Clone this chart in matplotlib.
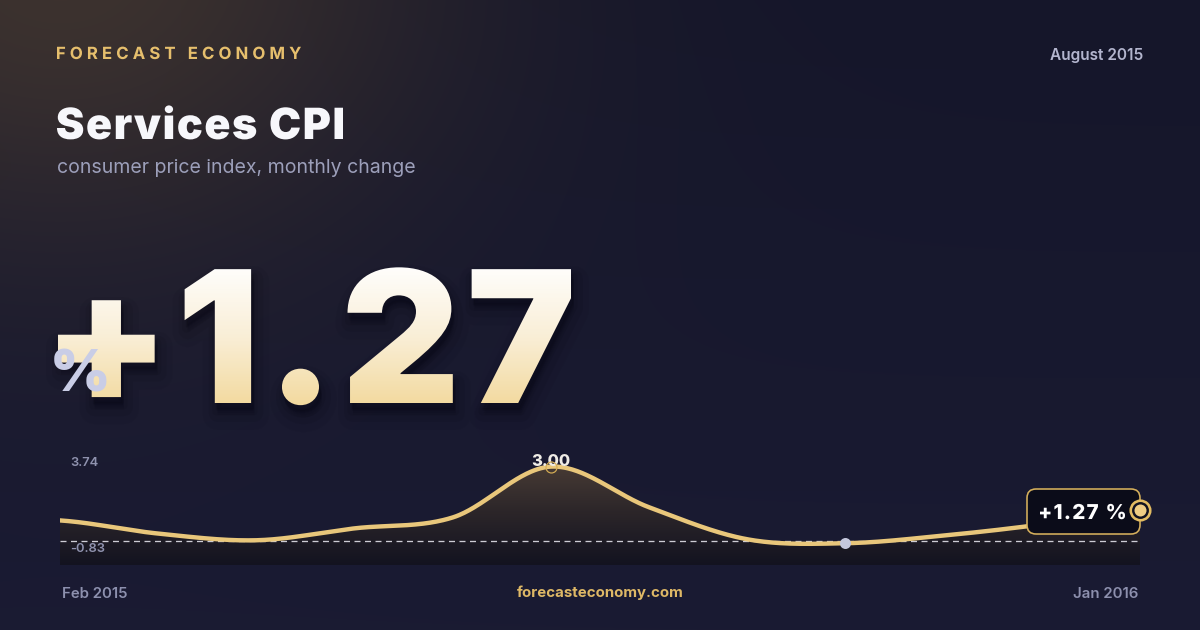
import numpy as np
import matplotlib
matplotlib.use("Agg")
import matplotlib.pyplot as plt
from matplotlib import font_manager as fm
from matplotlib import patheffects as pe
from matplotlib.font_manager import get_font
from matplotlib.textpath import TextPath
from matplotlib.patches import FancyBboxPatch
from matplotlib.transforms import Affine2D, Bbox, ScaledTranslation
from matplotlib.path import Path
from matplotlib.colors import LinearSegmentedColormap, to_rgb

plt.rcParams["lines.scale_dashes"] = False

# ---------------- data ----------------
brand = "FORECAST ECONOMY"
report_date = "August 2015"
title = "Services CPI"
subtitle = "consumer price index, monthly change"
site = "forecasteconomy.com"
unit = "%"
months = ["Feb 2015", "Mar 2015", "Apr 2015", "May 2015", "Jun 2015", "Jul 2015",
          "Aug 2015", "Sep 2015", "Oct 2015", "Nov 2015", "Dec 2015", "Jan 2016"]
cpi_change = [0.83, 0.30, 0.03, 0.51, 0.95, 3.00, 1.36, 0.07, -0.09, 0.22, 0.67, 1.27]
range_labels = [3.74, -0.83]

# ---------------- setup ----------------
W, H, DPI = 1200, 630, 100
PT = 72.0 / DPI  # px -> pt


def inter_file(weight):
    c = [f for f in fm.fontManager.ttflist
         if f.name == "Inter" and f.style == "normal" and int(f.weight) == weight
         and f.fname.lower().endswith(".otf")]
    return c[0].fname if c else None


def F(weight, px):
    fn = inter_file(weight)
    fp = fm.FontProperties(fname=fn) if fn else fm.FontProperties(family="Inter", weight=weight)
    fp.set_size(px * PT)
    return fp


def ink_extents(s, weight, px):
    fn = inter_file(weight)
    fp = fm.FontProperties(fname=fn) if fn else fm.FontProperties(family="Inter", weight=weight)
    return TextPath((0, 0), s, size=px, prop=fp).get_extents()


def glyph_starts(s, weight):
    """glyph origins of s in text-path units (em = 100)"""
    fn = inter_file(weight)
    font = get_font(fn)
    font.set_size(100, 72)
    xs, x = [], 0.0
    for ch in s:
        xs.append(x)
        x += font.load_char(ord(ch)).linearHoriAdvance / 65536.0
    return np.array(xs)


def track_path(tpath, starts, step):
    verts = np.array(tpath.vertices, float)
    codes = tpath.codes
    if codes is None or len(verts) == 0:
        return tpath
    mv = list(np.where(codes == Path.MOVETO)[0])
    ends = mv[1:] + [len(codes)]
    for s, e in zip(mv, ends):
        cx = 0.5 * (verts[s:e, 0].min() + verts[s:e, 0].max())
        k = max(int(np.searchsorted(starts, cx, side="right")) - 1, 0)
        verts[s:e, 0] += k * step
    return Path(verts, codes)


class TextFX(pe.AbstractPathEffect):
    """letter-spacing, soft shadow and vertical gradient fill for a Text artist"""

    def __init__(self, text="", weight=400, tracking_em=0.0, shadows=(), gradient=None):
        super().__init__()
        self.starts = glyph_starts(text, weight) if (tracking_em and text) else None
        self.tracking_em = tracking_em
        self.shadows = shadows
        self.gradient = gradient

    def draw_path(self, renderer, gc, tpath, affine, rgbFace=None):
        path = tpath
        if self.starts is not None:
            path = track_path(tpath, self.starts, self.tracking_em * 100.0)
        for dx, dy, lw, rgba in self.shadows:
            gc0 = renderer.new_gc()
            gc0.copy_properties(gc)
            gc0.set_linewidth(lw)
            gc0.set_foreground(rgba)
            gc0.set_joinstyle("round")
            renderer.draw_path(gc0, path, affine + Affine2D().translate(dx, -dy), rgba)
            gc0.restore()
        if self.gradient is None:
            gc0 = renderer.new_gc()
            gc0.copy_properties(gc)
            gc0.set_linewidth(0)
            renderer.draw_path(gc0, path, affine, rgbFace)
            gc0.restore()
        else:
            ext = path.get_extents(affine)
            y0, y1 = int(np.floor(ext.y0)), int(np.ceil(ext.y1))
            n = max(y1 - y0, 2)
            for k in range(n):
                yb = y1 - k - 1
                col = self.gradient(k / (n - 1))
                gc0 = renderer.new_gc()
                gc0.copy_properties(gc)
                gc0.set_linewidth(0)
                gc0.set_clip_rectangle(Bbox.from_extents(ext.x0 - 10, yb, ext.x1 + 10, yb + 1))
                renderer.draw_path(gc0, path, affine, col)
                gc0.restore()


def tracked_text(axis, x_ink_left, baseline, s, weight, px, target_w, color, **kw):
    """left-aligned text whose ink starts at x_ink_left and spans target_w px"""
    ext = ink_extents(s, weight, px)
    trk = (target_w - ext.width) / max(len(s) - 1, 1) / px
    fx = TextFX(text=s, weight=weight, tracking_em=trk,
                shadows=kw.pop("shadows", ()), gradient=kw.pop("gradient", None))
    return axis.text(x_ink_left - ext.x0, baseline, s, ha="left", va="baseline",
                     fontproperties=F(weight, px), color=color, path_effects=[fx], **kw)


fig = plt.figure(figsize=(W / DPI, H / DPI), dpi=DPI)

# ---------------- background ----------------
axbg = fig.add_axes([0, 0, 1, 1], zorder=0)
yy, xx = np.mgrid[0:H, 0:W]
top = np.array(to_rgb("#15162a"))
bot = np.array(to_rgb("#1a1b33"))
base = top[None, None, :] * (1 - yy[..., None] / H) + bot[None, None, :] * (yy[..., None] / H)
glow_c = np.array(to_rgb("#4a3c30"))
d = np.sqrt((xx - 60.0) ** 2 + ((yy + 40.0) * 1.3) ** 2)
wgt = np.exp(-(d / 380.0) ** 2)[..., None] * 0.75
bg = base * (1 - wgt) + glow_c[None, None, :] * wgt
axbg.imshow(bg, extent=[0, W, H, 0], aspect="auto", interpolation="bilinear")
axbg.set_xlim(0, W)
axbg.set_ylim(H, 0)
axbg.axis("off")

# ---------------- chart ----------------
cx0, cx1, cy_top, cy_bot = 60, 1140, 446, 565
zero_px, ppu = 541.0, 24.8
ax = fig.add_axes([cx0 / W, 1 - cy_bot / H, (cx1 - cx0) / W, (cy_bot - cy_top) / H], zorder=2)
ax.patch.set_alpha(0)
ylo, yhi = (zero_px - cy_bot) / ppu, (zero_px - cy_top) / ppu
ax.axis("off")


def catmull_rom(vals, n=60):
    v = np.asarray(vals, float)
    m = np.zeros_like(v)
    m[1:-1] = (v[2:] - v[:-2]) / 2.0
    m[0] = (v[1] - v[0]) / 2.0
    m[-1] = (v[-1] - v[-2]) / 2.0
    xs, ys = [], []
    t = np.linspace(0, 1, n, endpoint=False)
    h00 = 2 * t ** 3 - 3 * t ** 2 + 1
    h10 = t ** 3 - 2 * t ** 2 + t
    h01 = -2 * t ** 3 + 3 * t ** 2
    h11 = t ** 3 - t ** 2
    for i in range(len(v) - 1):
        xs.append(i + t)
        ys.append(h00 * v[i] + h10 * m[i] + h01 * v[i + 1] + h11 * m[i + 1])
    xs.append([len(v) - 1])
    ys.append([v[-1]])
    return np.concatenate(xs), np.concatenate(ys)


xs, ys = catmull_rom(cpi_change)
poly = ax.fill_between(xs, ys, ylo, color="none", lw=0)
fill_cmap = LinearSegmentedColormap.from_list(
    "fill", [(0.0, "#131320"), (0.22, "#1f1c25"), (0.45, "#2c2629"),
             (0.75, "#413632"), (1.0, "#554638")])
grad = np.linspace(0, 1, 256)[:, None]
im = ax.imshow(grad, extent=[0, len(months) - 1, ylo, yhi], origin="lower",
               aspect="auto", cmap=fill_cmap, zorder=1)
im.set_clip_path(poly.get_paths()[0], transform=ax.transData)
ax.set_xlim(0, len(months) - 1)
ax.set_ylim(ylo, yhi)

ax.axhline(0, color="#e2e2ea", lw=1.3 * PT, dashes=(6 * PT, 4.5 * PT), zorder=2, alpha=0.9)
ax.plot(xs, ys, color="#e9c77b", lw=4.4 * PT, solid_capstyle="round", zorder=3)

vals = np.asarray(cpi_change)
i_max, i_min, i_last = int(np.argmax(vals)), int(np.argmin(vals)), len(vals) - 1

# peak label + ring
off_peak = ScaledTranslation(i_max, vals[i_max], ax.transData)
ax.text(0, 0.5, f"{vals[i_max]:.2f}", transform=off_peak, ha="center", va="baseline",
        fontproperties=F(800, 16.5), color="#efece6", zorder=4, clip_on=False)
ax.plot(i_max, vals[i_max], "o", ms=11 * PT, mfc="none", mec="#d6ae55", mew=1.2 * PT, zorder=5)
# minimum dot
ax.plot(i_min, vals[i_min], "o", ms=11 * PT, color="#c4c7dd", mec="none", zorder=5)

# last value tag
sign = "+" if vals[i_last] >= 0 else ""
off_last = ScaledTranslation(i_last, vals[i_last], ax.transData)
box = FancyBboxPatch((-113, -24.5), 113, 45, boxstyle="round,pad=0,rounding_size=9",
                     transform=off_last, fc="#0b0c19", ec="#d6b05c", lw=1.6 * PT,
                     zorder=5, clip_on=False)
ax.add_patch(box)
tag = f"{sign}{vals[i_last]:.2f} {unit}"
tracked_text(ax, -100, -9.5, tag, 800, 20.5, 85, "#ffffff", transform=off_last,
             zorder=6, clip_on=False)
ax.plot(i_last, vals[i_last], "o", ms=19.5 * PT, mfc="#121220", mec="#e2bb62", mew=2.6 * PT,
        zorder=7, clip_on=False)
ax.plot(i_last, vals[i_last], "o", ms=12 * PT, color="#efcd84", mec="none", zorder=8, clip_on=False)

# ---------------- overlay texts ----------------
axt = fig.add_axes([0, 0, 1, 1], zorder=3)
axt.patch.set_alpha(0)
axt.axis("off")
axt.set_xlim(0, W)
axt.set_ylim(H, 0)

tracked_text(axt, 57, 59, brand, 700, 16.8, 244, "#e6bf6d")
axt.text(1143, 60, report_date, ha="right", va="baseline", fontproperties=F(600, 15.4),
         color="#b3b5ce")
tracked_text(axt, 57, 139, title, 900, 43, 286, "#f7f7fb")
axt.text(57, 173, subtitle, ha="left", va="baseline", fontproperties=F(400, 19.5), color="#9c9fba")

# big headline number: gradient fill + soft shadow
big = f"{sign}{vals[i_last]:.2f}"
tcmap = LinearSegmentedColormap.from_list("txt", ["#fefdfb", "#f9eed6", "#f2d99e"])
shadow = [(3, 12, 30 * PT, (0.02, 0.02, 0.05, 0.05)),
          (3, 10, 18 * PT, (0.02, 0.02, 0.05, 0.07)),
          (2, 8, 9 * PT, (0.02, 0.02, 0.05, 0.09)),
          (2, 6, 2 * PT, (0.02, 0.02, 0.05, 0.10))]
tracked_text(axt, 58, 403, big, 900, 184, 513, "#f6e3b8", shadows=shadow, gradient=tcmap,
             zorder=3)
axt.text(50, 392, unit, ha="left", va="baseline", fontproperties=F(900, 58), color="#c9cde6",
         zorder=4)

# range labels
axt.text(70, 466.5, f"{range_labels[0]:.2f}", ha="left", va="baseline", fontproperties=F(600, 13),
         color="#8f92ae")
axt.text(70, 552, f"{range_labels[1]:.2f}", ha="left", va="baseline", fontproperties=F(600, 13),
         color="#8f92ae")

# footer
axt.text(62, 597.5, months[0], ha="left", va="baseline", fontproperties=F(600, 15), color="#8d90ae")
axt.text(1138, 597.5, months[-1], ha="right", va="baseline", fontproperties=F(600, 15),
         color="#8d90ae")
axt.text(600, 597.5, site, ha="center", va="baseline", fontproperties=F(700, 15), color="#deb866")

fig.savefig("out.png", dpi=DPI)
